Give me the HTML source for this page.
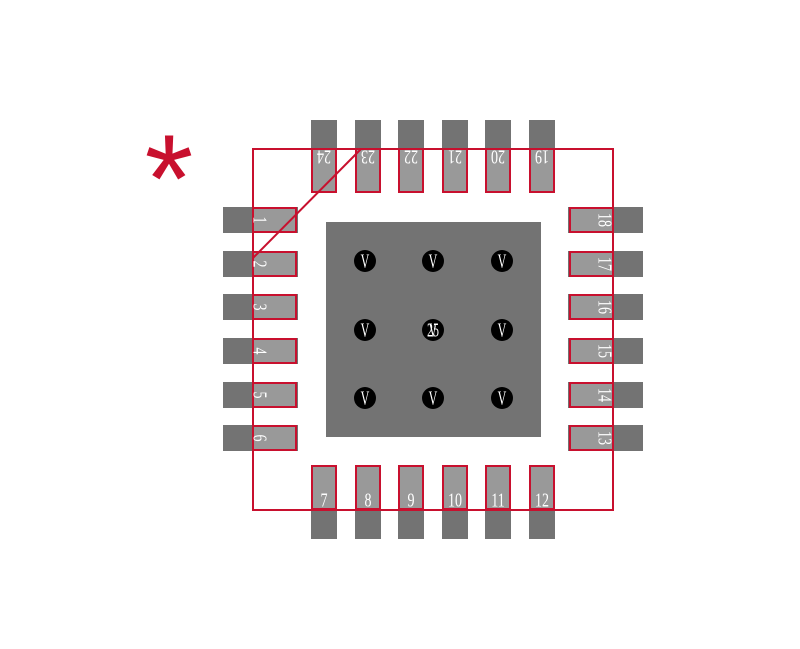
<!DOCTYPE html>
<html><head><style>body{margin:0;background:#fff}svg{display:block}</style></head><body>
<svg width="800" height="649" xmlns="http://www.w3.org/2000/svg" font-family="Liberation Serif, serif" font-size="20" fill="#fff">
<rect x="326" y="222" width="215" height="215" fill="#737373"/>
<g fill="#737373"><rect x="311" y="120" width="26" height="73"/><rect x="355" y="120" width="26" height="73"/><rect x="398" y="120" width="26" height="73"/><rect x="442" y="120" width="26" height="73"/><rect x="485" y="120" width="26" height="73"/><rect x="529" y="120" width="26" height="73"/>
<rect x="311" y="466" width="26" height="73"/><rect x="355" y="466" width="26" height="73"/><rect x="398" y="466" width="26" height="73"/><rect x="442" y="466" width="26" height="73"/><rect x="485" y="466" width="26" height="73"/><rect x="529" y="466" width="26" height="73"/>
<rect x="223" y="207" width="75" height="26"/><rect x="223" y="251" width="75" height="26"/><rect x="223" y="294" width="75" height="26"/><rect x="223" y="338" width="75" height="26"/><rect x="223" y="382" width="75" height="26"/><rect x="223" y="425" width="75" height="26"/>
<rect x="568" y="207" width="75" height="26"/><rect x="568" y="251" width="75" height="26"/><rect x="568" y="294" width="75" height="26"/><rect x="568" y="338" width="75" height="26"/><rect x="568" y="382" width="75" height="26"/><rect x="568" y="425" width="75" height="26"/></g>
<g fill="#999" stroke="#c8102e" stroke-width="2">
<rect x="312" y="149" width="24" height="43"/><rect x="356" y="149" width="24" height="43"/><rect x="399" y="149" width="24" height="43"/><rect x="443" y="149" width="24" height="43"/><rect x="486" y="149" width="24" height="43"/><rect x="530" y="149" width="24" height="43"/>
<rect x="312" y="466" width="24" height="43"/><rect x="356" y="466" width="24" height="43"/><rect x="399" y="466" width="24" height="43"/><rect x="443" y="466" width="24" height="43"/><rect x="486" y="466" width="24" height="43"/><rect x="530" y="466" width="24" height="43"/>
<rect x="253" y="208" width="43" height="24"/><rect x="253" y="252" width="43" height="24"/><rect x="253" y="295" width="43" height="24"/><rect x="253" y="339" width="43" height="24"/><rect x="253" y="383" width="43" height="24"/><rect x="253" y="426" width="43" height="24"/>
<rect x="570" y="208" width="43" height="24"/><rect x="570" y="252" width="43" height="24"/><rect x="570" y="295" width="43" height="24"/><rect x="570" y="339" width="43" height="24"/><rect x="570" y="383" width="43" height="24"/><rect x="570" y="426" width="43" height="24"/></g>
<rect x="253" y="149" width="360" height="361" fill="none" stroke="#c8102e" stroke-width="2"/>
<line x1="361" y1="149" x2="253" y2="258" stroke="#c8102e" stroke-width="2"/>
<text x="169" y="222" font-size="125" fill="#c8102e" text-anchor="middle" font-family="Liberation Sans, sans-serif">*</text>
<g text-anchor="middle" dominant-baseline="central">
<text transform="translate(324,157) rotate(180) scale(0.7,1)">24</text>
<text transform="translate(368,157) rotate(180) scale(0.7,1)">23</text>
<text transform="translate(411,157) rotate(180) scale(0.7,1)">22</text>
<text transform="translate(455,157) rotate(180) scale(0.7,1)">21</text>
<text transform="translate(498,157) rotate(180) scale(0.7,1)">20</text>
<text transform="translate(542,157) rotate(180) scale(0.7,1)">19</text>
<text transform="translate(324,500) scale(0.7,1)">7</text>
<text transform="translate(368,500) scale(0.7,1)">8</text>
<text transform="translate(411,500) scale(0.7,1)">9</text>
<text transform="translate(455,500) scale(0.7,1)">10</text>
<text transform="translate(498,500) scale(0.7,1)">11</text>
<text transform="translate(542,500) scale(0.7,1)">12</text>
<text transform="translate(260,220) rotate(90) scale(0.7,1)">1</text>
<text transform="translate(260,264) rotate(90) scale(0.7,1)">2</text>
<text transform="translate(260,307) rotate(90) scale(0.7,1)">3</text>
<text transform="translate(260,351) rotate(90) scale(0.7,1)">4</text>
<text transform="translate(260,395) rotate(90) scale(0.7,1)">5</text>
<text transform="translate(260,438) rotate(90) scale(0.7,1)">6</text>
<text transform="translate(605,220) rotate(90) scale(0.7,1)">18</text>
<text transform="translate(605,264) rotate(90) scale(0.7,1)">17</text>
<text transform="translate(605,307) rotate(90) scale(0.7,1)">16</text>
<text transform="translate(605,351) rotate(90) scale(0.7,1)">15</text>
<text transform="translate(605,395) rotate(90) scale(0.7,1)">14</text>
<text transform="translate(605,438) rotate(90) scale(0.7,1)">13</text>
</g>
<g fill="#000"><circle cx="365" cy="261" r="11"/><circle cx="433" cy="261" r="11"/><circle cx="502" cy="261" r="11"/><circle cx="365" cy="330" r="11"/><circle cx="433" cy="330" r="11"/><circle cx="502" cy="330" r="11"/><circle cx="365" cy="398" r="11"/><circle cx="433" cy="398" r="11"/><circle cx="502" cy="398" r="11"/></g>
<g text-anchor="middle" dominant-baseline="central" font-size="20">
<text transform="translate(365,261) scale(0.6,1)">V</text><text transform="translate(433,261) scale(0.6,1)">V</text><text transform="translate(502,261) scale(0.6,1)">V</text>
<text transform="translate(365,330) scale(0.6,1)">V</text><text transform="translate(433,330) scale(0.6,1)">V</text><text transform="translate(433,330) scale(0.6,1)">25</text><text transform="translate(502,330) scale(0.6,1)">V</text>
<text transform="translate(365,398) scale(0.6,1)">V</text><text transform="translate(433,398) scale(0.6,1)">V</text><text transform="translate(502,398) scale(0.6,1)">V</text>
</g>
</svg>
</body></html>
